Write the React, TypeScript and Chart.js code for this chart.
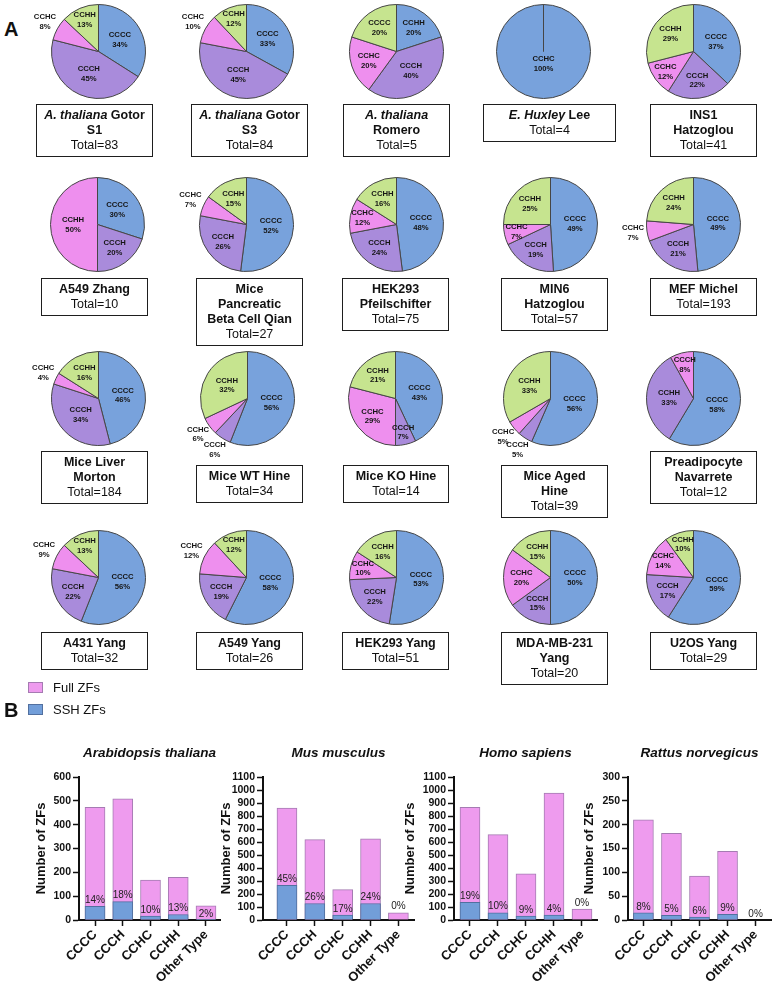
import React, { useEffect, useRef } from 'react';
import { Chart, registerables } from 'chart.js';

Chart.register(...registerables);

const FONT = '"Liberation Sans", Arial, Helvetica, sans-serif';

// ---------------- Panel A data ----------------
const pieTitles = [
  '*A. thaliana* Gotor|S1', '*A. thaliana* Gotor|S3', '*A. thaliana*|Romero', '*E. Huxley* Lee', 'INS1|Hatzoglou',
  'A549 Zhang', 'Mice|Pancreatic|Beta Cell Qian', 'HEK293|Pfeilschifter', 'MIN6|Hatzoglou', 'MEF Michel',
  'Mice Liver|Morton', 'Mice WT Hine', 'Mice KO Hine', 'Mice Aged|Hine', 'Preadipocyte|Navarrete',
  'A431 Yang', 'A549 Yang', 'HEK293 Yang', 'MDA-MB-231|Yang', 'U2OS Yang',
];
const pieTotals = [83, 84, 5, 4, 41, 10, 27, 75, 57, 193, 184, 34, 14, 39, 12, 32, 26, 51, 20, 29];
const STD = ['CCCC', 'CCCH', 'CCHC', 'CCHH'];
const pieSliceNames = [
  STD, STD, ['CCHH', 'CCCH', 'CCHC', 'CCCC'], ['CCHC'], STD,
  ['CCCC', 'CCCH', 'CCHH'], STD, STD, STD, STD,
  STD, STD, STD, STD, ['CCCC', 'CCHH', 'CCCH'],
  STD, STD, STD, STD, STD,
];
const piePercents = [
  [34, 45, 8, 13], [33, 45, 10, 12], [20, 40, 20, 20], [100], [37, 22, 12, 29],
  [30, 20, 50], [52, 26, 7, 15], [48, 24, 12, 16], [49, 19, 7, 25], [49, 21, 7, 24],
  [46, 34, 4, 16], [56, 6, 6, 32], [43, 7, 29, 21], [56, 5, 5, 33], [58, 33, 8],
  [56, 22, 9, 13], [58, 19, 12, 12], [53, 22, 10, 16], [50, 15, 20, 15], [59, 17, 14, 10],
];

// layout (positions only)
const pieCenters = [
  [98, 51], [246, 51], [396, 51], [543, 51], [693, 51],
  [97, 224], [246, 224], [396, 224], [550, 224], [693, 224],
  [98, 398], [247, 398], [395, 398], [550, 398], [693, 398],
  [98, 577], [246, 577], [396, 577], [550, 577], [693, 577],
];
const boxRects = [
  [36, 104, 117], [191, 104, 117], [343, 104, 107], [483, 104, 133], [650, 104, 107],
  [41, 278, 107], [196, 278, 107], [342, 278, 107], [501, 278, 107], [650, 278, 107],
  [41, 451, 107], [196, 465, 107], [343, 465, 106], [501, 465, 107], [650, 451, 107],
  [41, 632, 107], [196, 632, 107], [342, 632, 107], [501, 632, 107], [650, 632, 107],
];
const labelPlacement = [
  'iioi', 'iioi', 'iiii', 'c', 'iiii',
  'iii', 'iioi', 'iiii', 'iiii', 'iioi',
  'iioi', 'iooi', 'iiii', 'iooi', 'iii',
  'iioi', 'iioi', 'iiii', 'iiii', 'iiii',
];
const PIE_COLORS = ['#78A2DC', '#A98BDB', '#EE8FEE', '#C6E48F'];

// ---------------- Panel B data ----------------
const barCategories = ['CCCC', 'CCCH', 'CCHC', 'CCHH', 'Other Type'];
const speciesNames = ['Arabidopsis thaliana', 'Mus musculus', 'Homo sapiens', 'Rattus norvegicus'];
const arabFull = [473, 508, 168, 179, 59];
const arabSSH = [57, 77, 16, 23, 1];
const arabPct = ['14%', '18%', '10%', '13%', '2%'];
const musFull = [860, 618, 234, 624, 56];
const musSSH = [267, 127, 38, 127, 0];
const musPct = ['45%', '26%', '17%', '24%', '0%'];
const homoFull = [866, 657, 356, 977, 84];
const homoSSH = [135, 56, 31, 38, 0];
const homoPct = ['19%', '10%', '9%', '4%', '0%'];
const ratFull = [210, 182, 92, 144, 0];
const ratSSH = [15, 10, 6, 12, 0];
const ratPct = ['8%', '5%', '6%', '9%', '0%'];
const yMaxes = [600, 1100, 1100, 300];
const ySteps = [100, 100, 100, 50];

const barFull = [arabFull, musFull, homoFull, ratFull];
const barSSH = [arabSSH, musSSH, homoSSH, ratSSH];
const barPct = [arabPct, musPct, homoPct, ratPct];

const barLayouts = [
  { left: 0, width: 230, padLeft: 34, yWidth: 45, padRight: 10, xMin: -0.577, xMax: 4.505 },
  { left: 210, width: 214, padLeft: 9, yWidth: 44, padRight: 10, xMin: -0.86, xMax: 4.56 },
  { left: 395, width: 212, padLeft: 8, yWidth: 51, padRight: 10, xMin: -0.571, xMax: 4.536 },
  { left: 574, width: 200, padLeft: 8, yWidth: 46, padRight: 3, xMin: -0.55, xMax: 4.55 },
];
const BAR_TOP = 735;
const BAR_H = 254;

const PINK_BAR = '#EE9BEE';
const PINK_EDGE = '#A57BB2';
const BLUE_BAR = '#729ED9';
const BLUE_EDGE = '#52709F';

function PieChart({ idx }: { idx: number }) {
  const ref = useRef<HTMLCanvasElement | null>(null);
  const [cx, cy] = pieCenters[idx];
  useEffect(() => {
    const names = pieSliceNames[idx];
    const values = piePercents[idx];
    const placement = labelPlacement[idx];
    const labelPlugin = {
      id: 'pieLabels',
      afterDatasetsDraw(chart: any) {
        const ctx = chart.ctx;
        const meta = chart.getDatasetMeta(0);
        ctx.save();
        ctx.font = `bold 7.7px ${FONT}`;
        ctx.fillStyle = '#151515';
        ctx.textAlign = 'center';
        ctx.textBaseline = 'middle';
        meta.data.forEach((arc: any, i: number) => {
          const { x, y, startAngle, endAngle, outerRadius } = arc.getProps(
            ['x', 'y', 'startAngle', 'endAngle', 'outerRadius'], true);
          const mid = (startAngle + endAngle) / 2;
          const p = placement[i] || 'i';
          const v = values[i];
          let f = v >= 30 ? 0.52 : v >= 15 ? 0.62 : 0.74;
          if (p === 'o') f = 1.3;
          if (p === 'c') f = 0.26;
          const lx = x + Math.cos(mid) * outerRadius * f;
          const ly = y + Math.sin(mid) * outerRadius * f;
          ctx.fillText(names[i], lx, ly - 4.9);
          ctx.fillText(v + '%', lx, ly + 4.9);
        });
        ctx.restore();
      },
    };
    const chart = new Chart(ref.current as HTMLCanvasElement, {
      type: 'pie',
      data: {
        labels: names,
        datasets: [{
          data: values,
          backgroundColor: PIE_COLORS.slice(0, values.length),
          borderColor: '#464646',
          borderWidth: 1,
        }],
      },
      options: {
        animation: false,
        responsive: false,
        events: [],
        layout: { padding: { left: 32, right: 33, top: 28, bottom: 27 } },
        plugins: { legend: { display: false }, tooltip: { enabled: false } },
      },
      plugins: [labelPlugin],
    } as any);
    return () => chart.destroy();
  }, [idx]);
  return (
    <canvas
      ref={ref}
      width={160}
      height={150}
      style={{ position: 'absolute', left: cx - 79.5, top: cy - 75.5, width: 160, height: 150 }}
    />
  );
}

function TitleBox({ idx }: { idx: number }) {
  const [l, t, w] = boxRects[idx];
  const lines = pieTitles[idx].split('|').map((line) =>
    line.split('*').map((seg, j) => ({ text: seg, italic: j % 2 === 1 })));
  return (
    <div
      style={{
        position: 'absolute', left: l, top: t, width: w, boxSizing: 'border-box',
        border: '1.5px solid #1e1e1e', padding: '3px 2px', textAlign: 'center',
        fontFamily: FONT, fontSize: 12.5, lineHeight: '15px', color: '#111', whiteSpace: 'nowrap',
      }}
    >
      {lines.map((segs, li) => (
        <div key={li} style={{ fontWeight: 'bold' }}>
          {segs.map((sg, si) => (
            <span key={si} style={{ fontStyle: sg.italic ? 'italic' : 'normal' }}>{sg.text}</span>
          ))}
        </div>
      ))}
      <div>Total={pieTotals[idx]}</div>
    </div>
  );
}

function BarChart({ k }: { k: number }) {
  const ref = useRef<HTMLCanvasElement | null>(null);
  const L = barLayouts[k];
  useEffect(() => {
    const full = barFull[k];
    const ssh = barSSH[k];
    const pct = barPct[k];
    const deco = {
      id: 'barDeco',
      afterDatasetsDraw(chart: any) {
        const ctx = chart.ctx;
        const xs = chart.scales.x;
        const ys = chart.scales.y;
        const ca = chart.chartArea;
        ctx.save();
        ctx.font = `10px ${FONT}`;
        ctx.fillStyle = '#222';
        ctx.textAlign = 'center';
        ctx.textBaseline = 'bottom';
        pct.forEach((txt, i) => {
          const px = xs.getPixelForValue(i);
          const base = ssh[i] === 0 && full[i] > 0 ? full[i] : ssh[i];
          ctx.fillText(txt, px, ys.getPixelForValue(base) - 1);
        });
        ctx.font = `italic bold 13.5px ${FONT}`;
        ctx.fillStyle = '#111';
        ctx.textBaseline = 'middle';
        ctx.fillText(speciesNames[k], (ca.left + ca.right) / 2, 18);
        ctx.restore();
      },
    };
    const tickFont = { family: FONT, size: 10.5, weight: 'bold' };
    const chart = new Chart(ref.current as HTMLCanvasElement, {
      type: 'bar',
      data: {
        datasets: [
          {
            label: 'SSH ZFs',
            data: ssh.map((v, i) => ({ x: i, y: v })),
            backgroundColor: BLUE_BAR, borderColor: BLUE_EDGE, borderWidth: 1,
            grouped: false, barThickness: 20,
          },
          {
            label: 'Full ZFs',
            data: full.map((v, i) => ({ x: i, y: v })),
            backgroundColor: PINK_BAR, borderColor: PINK_EDGE, borderWidth: 1,
            grouped: false, barThickness: 20,
          },
        ],
      },
      options: {
        animation: false,
        responsive: false,
        events: [],
        layout: { padding: { left: L.padLeft, right: L.padRight, top: 42, bottom: 0 } },
        plugins: { legend: { display: false }, tooltip: { enabled: false }, title: { display: false } },
        scales: {
          x: {
            type: 'linear',
            bounds: 'data',
            min: L.xMin,
            max: L.xMax,
            offset: false,
            afterBuildTicks: (s: any) => { s.ticks = barCategories.map((_, i) => ({ value: i })); },
            afterFit: (s: any) => { s.height = 69; },
            ticks: {
              callback: (v: any) => barCategories[v] ?? '',
              minRotation: 45, maxRotation: 45, autoSkip: false,
              font: { family: FONT, size: 13, weight: 'bold' }, color: '#111', padding: 1,
            },
            grid: { offset: false, drawOnChartArea: false, drawTicks: true, tickLength: 6, tickColor: '#111', tickWidth: 1.5 },
            border: { display: true, color: '#111', width: 2 },
          },
          y: {
            min: 0,
            max: yMaxes[k],
            afterFit: (s: any) => { s.width = L.yWidth; },
            ticks: {
              stepSize: ySteps[k], autoSkip: false, font: tickFont, color: '#111', padding: 2,
              callback: (v: any) => String(v),
            },
            title: {
              display: true, text: 'Number of ZFs',
              font: { family: FONT, size: 13, weight: 'bold' }, color: '#111', padding: 0,
            },
            grid: { drawOnChartArea: false, drawTicks: true, tickLength: 6, tickColor: '#111', tickWidth: 1.5 },
            border: { display: true, color: '#111', width: 2 },
          },
        },
      },
      plugins: [deco],
    } as any);
    return () => chart.destroy();
  }, [k]);
  return (
    <canvas
      ref={ref}
      width={L.width}
      height={BAR_H}
      style={{ position: 'absolute', left: L.left, top: BAR_TOP, width: L.width, height: BAR_H }}
    />
  );
}

export default function App() {
  const letter = (txt: string, top: number) => (
    <div style={{ position: 'absolute', left: 4, top, fontFamily: FONT, fontWeight: 'bold', fontSize: 20, lineHeight: '20px', color: '#111' }}>{txt}</div>
  );
  const legendItem = (txt: string, top: number, fill: string, edge: string) => (
    <div style={{ position: 'absolute', left: 28, top, height: 13, display: 'flex', alignItems: 'center', fontFamily: FONT, fontSize: 13, color: '#111' }}>
      <span style={{ display: 'inline-block', width: 15, height: 11, boxSizing: 'border-box', background: fill, border: `1px solid ${edge}`, marginRight: 10 }} />
      <span>{txt}</span>
    </div>
  );
  return (
    <div style={{ position: 'absolute', left: 0, top: 0, width: 774, height: 989, overflow: 'hidden', background: '#fff' }}>
      {pieTitles.map((_, i) => <PieChart key={'p' + i} idx={i} />)}
      {pieTitles.map((_, i) => <TitleBox key={'b' + i} idx={i} />)}
      {letter('A', 19)}
      {letter('B', 700)}
      {legendItem('Full ZFs', 681, PINK_BAR, PINK_EDGE)}
      {legendItem('SSH ZFs', 703, BLUE_BAR, BLUE_EDGE)}
      {[0, 1, 2, 3].map((k) => <BarChart key={'c' + k} k={k} />)}
    </div>
  );
}
